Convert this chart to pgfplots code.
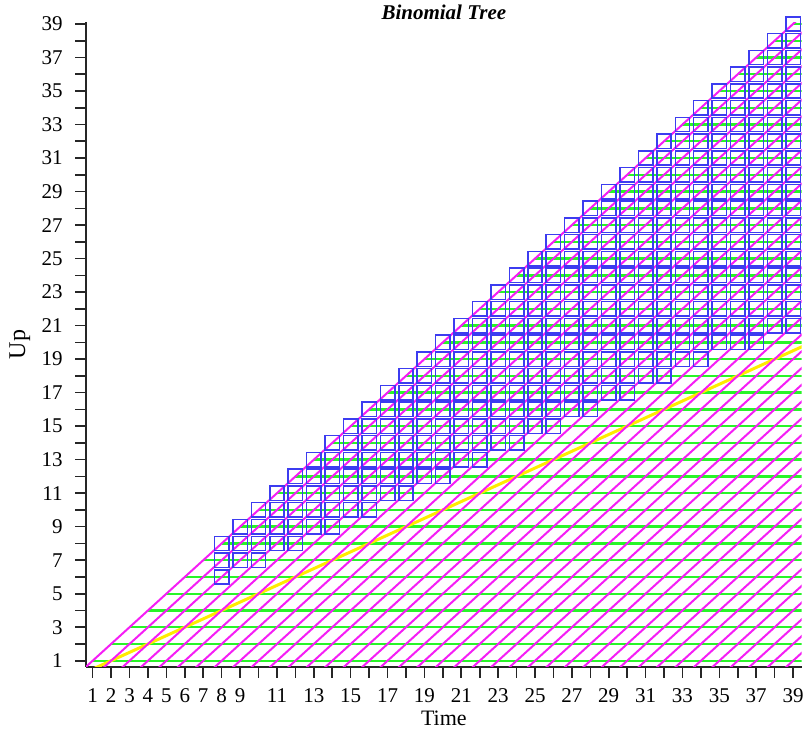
\documentclass[border=0pt]{standalone}
\usepackage{pgfplots}
\pgfplotsset{compat=1.18}
\usepackage{fontspec}
\setmainfont{Liberation Serif}
\definecolor{boxblue}{RGB}{60,60,240}
\definecolor{mag}{RGB}{245,30,245}
\definecolor{grn}{RGB}{40,245,40}
\definecolor{ylw}{RGB}{255,235,0}
\begin{document}
\begin{tikzpicture}
\begin{axis}[
  scale only axis, width=357.8pt, height=322.2pt,
  xmin=0.64, xmax=39.47, ymin=0.64, ymax=39.1,
  axis x line*=bottom, axis y line*=left,
  axis line style={line width=1pt, black!85, -},
  xtick={1,...,39}, ytick={1,...,39},
  xticklabels={1,2,3,4,5,6,7,8,9,{},11,{},13,{},15,{},17,{},19,{},21,{},23,{},25,{},27,{},29,{},31,{},33,{},35,{},37,{},39},
  yticklabels={1,{},3,{},5,{},7,{},9,{},11,{},13,{},15,{},17,{},19,{},21,{},23,{},25,{},27,{},29,{},31,{},33,{},35,{},37,{},39},
  tick align=outside, major tick length=5.5pt,
  tick style={line width=0.8pt, black!85},
  /pgf/number format/assume math mode=true,
  xticklabel style={font=\fontsize{10.5}{12}\selectfont, anchor=north, inner sep=0pt, yshift=-5.1pt},
  yticklabel style={font=\fontsize{10.5}{12}\selectfont, anchor=east, inner sep=0pt, xshift=-6pt},
  unbounded coords=jump,
]
\coordinate (T) at (rel axis cs:0.5,1);
\coordinate (B) at (rel axis cs:0.5,0);
\coordinate (L) at (rel axis cs:0,0.5);
\coordinate (SW) at (rel axis cs:0,0);
\coordinate (NE) at (rel axis cs:1,1);
% blue node boxes
\addplot[only marks, mark=square, mark size=3.6pt, mark options={draw=boxblue, line width=0.75pt, fill=none}] coordinates {
(8,6)(8,7)(8,8)
(9,7)(9,8)(9,9)
(10,7)(10,8)(10,9)(10,10)
(11,8)(11,9)(11,10)(11,11)
(12,8)(12,9)(12,10)(12,11)(12,12)
(13,9)(13,10)(13,11)(13,12)(13,13)
(14,9)(14,10)(14,11)(14,12)(14,13)(14,14)
(15,10)(15,11)(15,12)(15,13)(15,14)(15,15)
(16,10)(16,11)(16,12)(16,13)(16,14)(16,15)(16,16)
(17,11)(17,12)(17,13)(17,14)(17,15)(17,16)(17,17)
(18,11)(18,12)(18,13)(18,14)(18,15)(18,16)(18,17)(18,18)
(19,12)(19,13)(19,14)(19,15)(19,16)(19,17)(19,18)(19,19)
(20,12)(20,13)(20,14)(20,15)(20,16)(20,17)(20,18)(20,19)(20,20)
(21,13)(21,14)(21,15)(21,16)(21,17)(21,18)(21,19)(21,20)(21,21)
(22,13)(22,14)(22,15)(22,16)(22,17)(22,18)(22,19)(22,20)(22,21)(22,22)
(23,14)(23,15)(23,16)(23,17)(23,18)(23,19)(23,20)(23,21)(23,22)(23,23)
(24,14)(24,15)(24,16)(24,17)(24,18)(24,19)(24,20)(24,21)(24,22)(24,23)(24,24)
(25,15)(25,16)(25,17)(25,18)(25,19)(25,20)(25,21)(25,22)(25,23)(25,24)(25,25)
(26,15)(26,16)(26,17)(26,18)(26,19)(26,20)(26,21)(26,22)(26,23)(26,24)(26,25)(26,26)
(27,16)(27,17)(27,18)(27,19)(27,20)(27,21)(27,22)(27,23)(27,24)(27,25)(27,26)(27,27)
(28,16)(28,17)(28,18)(28,19)(28,20)(28,21)(28,22)(28,23)(28,24)(28,25)(28,26)(28,27)(28,28)
(29,17)(29,18)(29,19)(29,20)(29,21)(29,22)(29,23)(29,24)(29,25)(29,26)(29,27)(29,28)(29,29)
(30,17)(30,18)(30,19)(30,20)(30,21)(30,22)(30,23)(30,24)(30,25)(30,26)(30,27)(30,28)(30,29)(30,30)
(31,18)(31,19)(31,20)(31,21)(31,22)(31,23)(31,24)(31,25)(31,26)(31,27)(31,28)(31,29)(31,30)(31,31)
(32,18)(32,19)(32,20)(32,21)(32,22)(32,23)(32,24)(32,25)(32,26)(32,27)(32,28)(32,29)(32,30)(32,31)(32,32)
(33,19)(33,20)(33,21)(33,22)(33,23)(33,24)(33,25)(33,26)(33,27)(33,28)(33,29)(33,30)(33,31)(33,32)(33,33)
(34,19)(34,20)(34,21)(34,22)(34,23)(34,24)(34,25)(34,26)(34,27)(34,28)(34,29)(34,30)(34,31)(34,32)(34,33)(34,34)
(35,20)(35,21)(35,22)(35,23)(35,24)(35,25)(35,26)(35,27)(35,28)(35,29)(35,30)(35,31)(35,32)(35,33)(35,34)(35,35)
(36,20)(36,21)(36,22)(36,23)(36,24)(36,25)(36,26)(36,27)(36,28)(36,29)(36,30)(36,31)(36,32)(36,33)(36,34)(36,35)(36,36)
(37,20)(37,21)(37,22)(37,23)(37,24)(37,25)(37,26)(37,27)(37,28)(37,29)(37,30)(37,31)(37,32)(37,33)(37,34)(37,35)(37,36)(37,37)
(38,21)(38,22)(38,23)(38,24)(38,25)(38,26)(38,27)(38,28)(38,29)(38,30)(38,31)(38,32)(38,33)(38,34)(38,35)(38,36)(38,37)(38,38)
(39,21)(39,22)(39,23)(39,24)(39,25)(39,26)(39,27)(39,28)(39,29)(39,30)(39,31)(39,32)(39,33)(39,34)(39,35)(39,36)(39,37)(39,38)(39,39)
};
% green horizontal (down) edges
\addplot[grn, line width=1.2pt, no marks] coordinates {
(1,1)(40,1) (nan,nan) (2,2)(40,2) (nan,nan) (3,3)(40,3) (nan,nan) (4,4)(40,4) (nan,nan)
(5,5)(40,5) (nan,nan) (6,6)(40,6) (nan,nan) (7,7)(40,7) (nan,nan) (8,8)(40,8) (nan,nan)
(9,9)(40,9) (nan,nan) (10,10)(40,10) (nan,nan) (11,11)(40,11) (nan,nan) (12,12)(40,12) (nan,nan)
(13,13)(40,13) (nan,nan) (14,14)(40,14) (nan,nan) (15,15)(40,15) (nan,nan) (16,16)(40,16) (nan,nan)
(17,17)(40,17) (nan,nan) (18,18)(40,18) (nan,nan) (19,19)(40,19) (nan,nan) (20,20)(40,20) (nan,nan)
(21,21)(40,21) (nan,nan) (22,22)(40,22) (nan,nan) (23,23)(40,23) (nan,nan) (24,24)(40,24) (nan,nan)
(25,25)(40,25) (nan,nan) (26,26)(40,26) (nan,nan) (27,27)(40,27) (nan,nan) (28,28)(40,28) (nan,nan)
(29,29)(40,29) (nan,nan) (30,30)(40,30) (nan,nan) (31,31)(40,31) (nan,nan) (32,32)(40,32) (nan,nan)
(33,33)(40,33) (nan,nan) (34,34)(40,34) (nan,nan) (35,35)(40,35) (nan,nan) (36,36)(40,36) (nan,nan)
(37,37)(40,37) (nan,nan) (38,38)(40,38) (nan,nan) (39,39)(40,39)
};
% yellow mean line
\addplot[ylw, line width=1.5pt, no marks] coordinates {(1,0.5)(40,20)};
% magenta diagonal (up) edges
\addplot[mag, line width=1.0pt, no marks] coordinates {
(0,0)(40,40) (nan,nan) (1,0)(40,39) (nan,nan) (2,0)(40,38) (nan,nan) (3,0)(40,37) (nan,nan)
(4,0)(40,36) (nan,nan) (5,0)(40,35) (nan,nan) (6,0)(40,34) (nan,nan) (7,0)(40,33) (nan,nan)
(8,0)(40,32) (nan,nan) (9,0)(40,31) (nan,nan) (10,0)(40,30) (nan,nan) (11,0)(40,29) (nan,nan)
(12,0)(40,28) (nan,nan) (13,0)(40,27) (nan,nan) (14,0)(40,26) (nan,nan) (15,0)(40,25) (nan,nan)
(16,0)(40,24) (nan,nan) (17,0)(40,23) (nan,nan) (18,0)(40,22) (nan,nan) (19,0)(40,21) (nan,nan)
(20,0)(40,20) (nan,nan) (21,0)(40,19) (nan,nan) (22,0)(40,18) (nan,nan) (23,0)(40,17) (nan,nan)
(24,0)(40,16) (nan,nan) (25,0)(40,15) (nan,nan) (26,0)(40,14) (nan,nan) (27,0)(40,13) (nan,nan)
(28,0)(40,12) (nan,nan) (29,0)(40,11) (nan,nan) (30,0)(40,10) (nan,nan) (31,0)(40,9) (nan,nan)
(32,0)(40,8) (nan,nan) (33,0)(40,7) (nan,nan) (34,0)(40,6) (nan,nan) (35,0)(40,5) (nan,nan)
(36,0)(40,4) (nan,nan) (37,0)(40,3) (nan,nan) (38,0)(40,2) (nan,nan) (39,0)(40,1)
};
\end{axis}
\node[anchor=base, inner sep=0pt, font=\bfseries\itshape\fontsize{10.5}{12}\selectfont] at ([yshift=1.2pt]T) {Binomial Tree};
\node[anchor=base, inner sep=0pt, font=\fontsize{11}{13}\selectfont] at ([yshift=-29.2pt]B) {Time};
\node[anchor=base, rotate=90, inner sep=0pt, font=\fontsize{12}{14}\selectfont] at ([xshift=-30.5pt]L) {Up};
\pgfresetboundingbox
\path[use as bounding box] ([xshift=-43pt,yshift=-34.15pt]SW) rectangle ([xshift=3.15pt,yshift=11.15pt]NE);
\end{tikzpicture}
\end{document}
